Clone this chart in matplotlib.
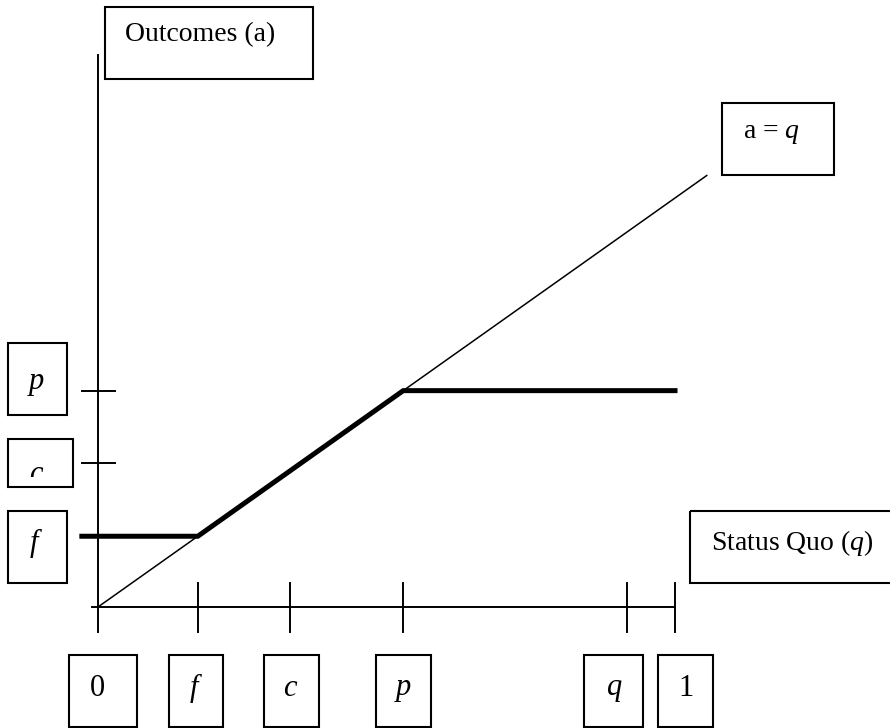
import matplotlib
matplotlib.use('Agg')
import matplotlib.pyplot as plt
from matplotlib.patches import Rectangle

plt.rcParams['font.family'] = ['Liberation Serif', 'DejaVu Serif']
plt.rcParams['mathtext.fontset'] = 'custom'
plt.rcParams['mathtext.rm'] = 'Liberation Serif'
plt.rcParams['mathtext.it'] = 'Liberation Serif:italic'

# thresholds on the status quo axis (0..1)
q_ticks = [0, 0.173, 0.333, 0.529, 0.917, 1.0]
q_labels = ['0', 'f', 'c', 'p', 'q', '1']
q_italic = [False, True, True, True, True, False]
# ticks on the outcome axis
a_ticks = [0.528, 0.352]
a_labels = ['p', 'c']
f_val = 0.173
p_val = 0.529

# outcome as a function of q (thick line)
out_x = [-0.028, f_val, p_val, 1.0]
out_y = [f_val, f_val, p_val, p_val]
# 45 degree line a = q
diag = [0, 1.055]

fig = plt.figure(figsize=(8.9, 7.28), dpi=100)
ax = fig.add_axes([0, 0, 1, 1])
ax.set_xlim(-98 / 577, 792 / 577)
ax.set_ylim(-121 / 409, 607 / 409)
ax.axis('off')

lw = 1.4
ax.plot([0, 0], [-0.061, 1.35], color='black', lw=lw)
ax.plot([-0.010, 1.0], [0, 0], color='black', lw=lw)
for x in q_ticks[1:]:
    ax.plot([x, x], [-0.061, 0.059], color='black', lw=lw)
for y in a_ticks:
    ax.plot([-0.028, 0.029], [y, y], color='black', lw=lw)

ax.plot(diag, diag, color='black', lw=1.1)
ax.plot(out_x, out_y, color='black', lw=3.6, solid_joinstyle='miter')

# overlay in pixel units for the label boxes
ov = fig.add_axes([0, 0, 1, 1])
ov.set_xlim(0, 890)
ov.set_ylim(728, 0)
ov.axis('off')
ov.patch.set_alpha(0)

fs = 20
fl = 22


def box(x0, y0, x1, y1):
    ov.add_patch(Rectangle((x0, y0), x1 - x0, y1 - y0, fill=False,
                           edgecolor='black', lw=1.5))


box(105, 7, 313, 79)
ov.text(125, 35, 'Outcomes (a)', fontsize=fs, ha='left', va='center')

box(722, 103, 834, 175)
ov.text(743, 133, 'a = $q$', fontsize=fs, ha='left', va='center')

box(690, 511, 895, 583)
ov.text(711, 543, 'Status Quo ($q$)', fontsize=fs, ha='left', va='center')

# left boxes for outcome ticks
box(8, 343, 67, 415)
ov.text(36, 381, a_labels[0], fontsize=fl, style='italic', ha='center', va='center')
box(8, 439, 73, 487)
t = ov.text(36, 475, a_labels[1], fontsize=fl, style='italic', ha='center', va='center')
clip = Rectangle((8, 439), 65, 38, transform=ov.transData)
t.set_clip_path(clip)
t.set_clip_on(True)
box(8, 511, 67, 583)
ov.text(34, 543, 'f', fontsize=fl, style='italic', ha='center', va='center')

# bottom boxes for status quo ticks
bx = [(69, 137), (169, 223), (264, 319), (376, 431), (584, 643), (658, 713)]
tx = [97, 194, 290, 403, 615, 686]
for (x0, x1), xt, lab, it in zip(bx, tx, q_labels, q_italic):
    box(x0, 655, x1, 727)
    ov.text(xt, 688, lab, fontsize=fl, style='italic' if it else 'normal',
            ha='center', va='center')

fig.savefig('out.png', dpi=100)
